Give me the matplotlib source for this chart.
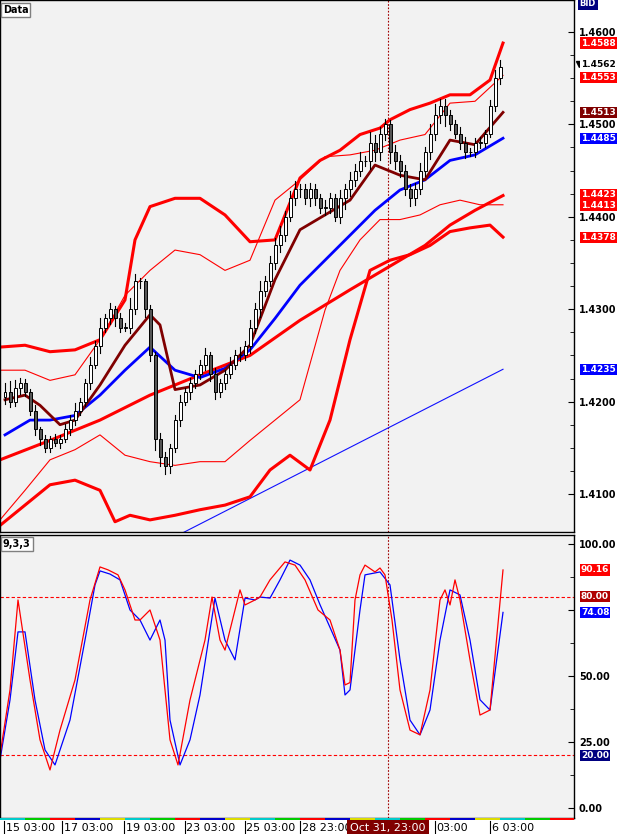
import matplotlib
matplotlib.use("Agg")
import matplotlib.pyplot as plt
from matplotlib.patches import Rectangle
import numpy as np

# ---------------- data ----------------
closes = [1.421,1.420,1.4215,1.422,1.421,1.419,1.417,1.416,
          1.415,1.416,1.4155,1.416,1.417,1.418,1.419,1.420,
          1.422,1.424,1.426,1.428,1.429,1.430,1.429,1.428,
          1.428,1.430,1.433,1.433,1.430,1.425,1.416,1.414,
          1.413,1.415,1.418,1.420,1.421,1.422,1.423,1.424,
          1.425,1.423,1.421,1.422,1.423,1.424,1.425,1.425,
          1.426,1.428,1.430,1.432,1.433,1.435,1.437,1.438,
          1.440,1.442,1.443,1.443,1.442,1.443,1.442,1.441,
          1.441,1.442,1.440,1.442,1.443,1.444,1.445,1.446,
          1.446,1.448,1.447,1.449,1.450,1.447,1.446,1.445,
          1.443,1.442,1.443,1.445,1.447,1.449,1.451,1.452,
          1.451,1.450,1.449,1.448,1.447,1.447,1.448,1.448,
          1.449,1.452,1.455,1.4562]
first_open = 1.4205
wick_up = [0.0010,0.0012,0.0008,0.0006,0.0005,0.0004,0.0006,0.0003,
           0.0004,0.0003,0.0005,0.0004,0.0006,0.0005,0.0009,0.0004,
           0.0005,0.0008,0.0006,0.0010,0.0005,0.0007,0.0004,0.0006,
           0.0005,0.0012,0.0008,0.0004,0.0003,0.0005,0.0004,0.0006,
           0.0005,0.0004,0.0006,0.0007,0.0005,0.0006,0.0004,0.0005,
           0.0008,0.0004,0.0006,0.0005,0.0004,0.0008,0.0006,0.0009,
           0.0006,0.0008,0.0007,0.0010,0.0006,0.0008,0.0007,0.0010,
           0.0006,0.0008,0.0009,0.0006,0.0005,0.0007,0.0006,0.0005,
           0.0008,0.0006,0.0005,0.0009,0.0006,0.0008,0.0007,0.0010,
           0.0006,0.0012,0.0008,0.0007,0.0006,0.0005,0.0008,0.0007,
           0.0006,0.0005,0.0007,0.0008,0.0006,0.0010,0.0012,0.0008,
           0.0007,0.0006,0.0005,0.0007,0.0006,0.0004,0.0005,0.0006,
           0.0004,0.0006,0.0009,0.0008]
wick_dn = [0.0008,0.0006,0.0005,0.0007,0.0004,0.0005,0.0006,0.0007,
           0.0005,0.0004,0.0003,0.0005,0.0004,0.0006,0.0005,0.0004,
           0.0005,0.0006,0.0004,0.0007,0.0005,0.0006,0.0008,0.0005,
           0.0004,0.0006,0.0005,0.0007,0.0008,0.0006,0.0012,0.0010,
           0.0008,0.0007,0.0005,0.0006,0.0004,0.0007,0.0005,0.0006,
           0.0006,0.0008,0.0007,0.0005,0.0006,0.0004,0.0005,0.0006,
           0.0005,0.0007,0.0006,0.0008,0.0006,0.0005,0.0007,0.0008,
           0.0006,0.0005,0.0007,0.0009,0.0006,0.0008,0.0007,0.0006,
           0.0008,0.0006,0.0005,0.0007,0.0012,0.0008,0.0007,0.0006,
           0.0005,0.0008,0.0010,0.0009,0.0007,0.0012,0.0008,0.0007,
           0.0006,0.0008,0.0007,0.0005,0.0006,0.0008,0.0007,0.0009,
           0.0012,0.0006,0.0005,0.0007,0.0006,0.0004,0.0005,0.0006,
           0.0005,0.0004,0.0005,0.0006]

blue_x = [1,6,10,15,20,25,30,35,40,45,50,55,60,65,70,75,80,85,90,95,100.6]
blue_y = [1.4164,1.4180,1.4180,1.4185,1.4207,1.4234,1.4259,1.4234,1.4226,1.4236,1.4256,1.4290,1.4326,1.4353,1.4380,1.4407,1.4429,1.4440,1.4461,1.4467,1.4485]
ema_x = [1,5,8,12,15,20,25,30,32,35,40,45,50,55,60,65,70,75,80,85,90,95,100.6]
ema_y = [1.4202,1.4207,1.4196,1.4175,1.4180,1.4218,1.4261,1.4294,1.4283,1.4213,1.4218,1.4234,1.4261,1.4332,1.4386,1.4402,1.4418,1.4456,1.4445,1.4440,1.4483,1.4478,1.4513]
mid_x = [0,10,20,30,40,50,60,70,75,80,85,90,95,100.6]
mid_y = [1.4137,1.4158,1.4180,1.4207,1.4229,1.4250,1.4288,1.4321,1.4337,1.4353,1.4369,1.4391,1.4407,1.4423]
ub_x = [0,5,10,15,20,25,27,30,35,40,45,50,55,60,64,68,72,76,78,82,86,90,94,98,100.6]
ub_y = [1.4259,1.4261,1.4254,1.4256,1.4267,1.4310,1.4375,1.4411,1.4420,1.4420,1.4402,1.4373,1.4375,1.4442,1.4461,1.4472,1.4489,1.4496,1.4505,1.4516,1.4523,1.4532,1.4532,1.4548,1.4588]
lb_x = [0,5,10,15,20,23,26,30,35,40,45,50,54,58,62,66,70,74,78,82,86,90,94,98,100.6]
lb_y = [1.4066,1.4088,1.4110,1.4115,1.4104,1.4070,1.4077,1.4072,1.4077,1.4083,1.4088,1.4097,1.4126,1.4142,1.4126,1.4180,1.4267,1.4342,1.4353,1.4359,1.4369,1.4384,1.4388,1.4391,1.4378]
tu_x = [0,5,10,15,20,25,30,35,40,45,50,55,60,65,70,75,80,85,90,95,100.6]
tu_y = [1.4234,1.4234,1.4223,1.4229,1.4267,1.4315,1.4342,1.4364,1.4359,1.4342,1.4353,1.4418,1.4440,1.4465,1.4467,1.4472,1.4483,1.4489,1.4523,1.4525,1.4553]
tl_x = [0,5,10,15,20,25,30,35,40,45,50,55,60,65,68,72,76,80,84,88,92,96,100.6]
tl_y = [1.4072,1.4104,1.4137,1.4148,1.4164,1.4142,1.4135,1.4131,1.4135,1.4135,1.4158,1.4180,1.4202,1.4299,1.4342,1.4375,1.4397,1.4397,1.4402,1.4413,1.4418,1.4413,1.4413]
lt_x = [0, 100.6]
lt_y = [1.3957, 1.4235]

k_x = [0,2,3.6,6,8,10,12,15,18,20,21.6,23.6,25,27,28,30,31,32,34,35.6,38,41,42.4,44,45,48,49,51,52,54,57,59,61,63.6,66,68,69,70,71,72,73,75,76,77,78.4,80,82,84,86,88,89,90,91,92,94,96,98,100.6]
k_y = [20,44.7,78.8,48.5,25.8,14.4,29.5,48.5,78.8,91.3,90.2,88.3,82.6,71.2,71.2,75,69.3,63.6,25.8,16.3,40.9,63.6,79.9,63.6,59.8,82.6,76.9,78.8,79.9,86.4,93.2,92,86.4,75,71.2,59.8,46.6,47.5,78.8,88.3,92,89.4,90.9,88.3,71.2,44.7,29.5,27.7,44.7,78.8,82.6,76.9,86.4,78.8,56.1,35.2,37.1,90.16]
d_x = [0,2,3.6,5,7,9,11,14,17,19,20,22,24,26,28,30,32,33,34,36,38,40,43,45,47,49,51,52,54,56,58,60,62,64,68,69,70,72,73,76,78,80,82,84,86,88,90,92,94,96,98,100.6]
d_y = [18.2,40.9,66.7,66.7,40.9,22,16.3,33.3,63.6,84.5,89.8,88.6,86.4,75,71.2,63.6,71.2,63.6,33.3,16.3,25.8,42.8,79.5,63.6,56.1,79.5,78.8,79.9,79.5,86.4,93.9,92,86.4,77,59.8,42.8,44.7,75,88.3,89.4,84.5,56.1,33.3,27.7,37.1,63.6,82.6,80.7,63.6,41,37.1,74.08]

date_pos = [0.8,12.4,24.8,37,49,60,87,98]
date_lab = ["15 03:00","17 03:00","19 03:00","23 03:00","25 03:00","28 23:00","03:00","6 03:00"]
cross_pos = 77.6
cross_lab = "Oct 31, 23:00"

BG = "#f2f2f2"
W, H = 626, 834
fig = plt.figure(figsize=(W/100, H/100), dpi=100)
fig.patch.set_facecolor("white")
R = 574/W

ax = fig.add_axes([0, 1-532/H, R, 532/H], facecolor=BG)
ax2 = fig.add_axes([0, 1-818/H, R, 283/H], facecolor=BG)
for a in (ax, ax2):
    a.set_xlim(0, 114.8)
    a.tick_params(axis="y", which="both", left=False, right=True, labelleft=False,
                  labelright=True, direction="in", length=4, labelsize=7)
    a.set_xticks([])
    for s in a.spines.values():
        s.set_color("black"); s.set_linewidth(1)
    a.axvline(cross_pos, color="#a00000", ls=(0, (1.5, 1.5)), lw=0.8, zorder=1)

ax.set_ylim(1.40589, 1.46346)
ax2.set_ylim(-3.8, 103.4)

ax.plot(lt_x, lt_y, color="#1010ff", lw=0.8, zorder=2)
ax.plot(tu_x, tu_y, color="red", lw=0.8, zorder=2)
ax.plot(tl_x, tl_y, color="red", lw=0.8, zorder=2)
ax.plot(ub_x, ub_y, color="red", lw=2.2, zorder=2)
ax.plot(lb_x, lb_y, color="red", lw=2.2, zorder=2)
ax.plot(mid_x, mid_y, color="red", lw=2.2, zorder=2)
ax.plot(blue_x, blue_y, color="#0000ff", lw=2, zorder=3)
ax.plot(ema_x, ema_y, color="#800000", lw=2, zorder=3)

opens = [first_open] + closes[:-1]
for i, (o, c) in enumerate(zip(opens, closes)):
    x = i + 1
    hi = max(o, c) + wick_up[i]
    lo = min(o, c) - wick_dn[i]
    ax.plot([x, x], [lo, hi], color="black", lw=0.8, zorder=4)
    fc = "white" if c >= o else "#555555"
    h = abs(c - o) if abs(c - o) > 0.00005 else 0.00005
    ax.add_patch(Rectangle((x - 0.3, min(o, c)), 0.6, h, facecolor=fc,
                           edgecolor="black", lw=0.7, zorder=5))

pt = [1.41, 1.42, 1.43, 1.44, 1.45, 1.46]
ax.set_yticks(pt, [f"{v:.4f}" for v in pt], fontweight="bold")
ax.set_yticks(np.arange(1.41, 1.461, 0.0025), minor=True)
ax.tick_params(axis="y", which="minor", right=True, direction="in", length=3)

def tag(a, y, s, fc, tc="white"):
    a.text(1.012, y, s, transform=a.get_yaxis_transform(), ha="left", va="center",
           fontsize=6.5, fontweight="bold", color=tc, clip_on=False,
           bbox=dict(boxstyle="square,pad=0.12", fc=fc, ec="none"))

tag(ax, 1.4588, "1.4588", "red")
tag(ax, 1.4565, "1.4562", "white", "black")
tag(ax, 1.4551, "1.4553", "red")
tag(ax, 1.4513, "1.4513", "#800000")
tag(ax, 1.4485, "1.4485", "#0000ff")
tag(ax, 1.4424, "1.4423", "red")
tag(ax, 1.4412, "1.4413", "red")
tag(ax, 1.4378, "1.4378", "red")
tag(ax, 1.4235, "1.4235", "#0000ff")
ax.plot([1.008], [1.4565], marker="v", color="black", ms=4, transform=ax.get_yaxis_transform(), clip_on=False)
ax.text(1.01, 0.993, "BID", transform=ax.transAxes, fontsize=6, color="white",
        fontweight="bold", va="center", clip_on=False,
        bbox=dict(boxstyle="square,pad=0.2", fc="#000080", ec="none"))
ax.text(0.005, 0.99, "Data", transform=ax.transAxes, fontsize=7, fontweight="bold",
        va="top", bbox=dict(boxstyle="square,pad=0.2", fc="white", ec="gray"))

ax2.axhline(80, color="red", ls=(0, (3, 2)), lw=0.8)
ax2.axhline(20, color="red", ls=(0, (3, 2)), lw=0.8)
ax2.plot(d_x, d_y, color="#0000ff", lw=0.9)
ax2.plot(k_x, k_y, color="red", lw=0.9)
st = [0, 25, 50, 75, 100]
ax2.set_yticks(st, ["0.00", "25.00", "50.00", "", "100.00"], fontweight="bold")
ax2.set_yticks([12.5, 37.5, 62.5, 87.5], minor=True)
ax2.tick_params(axis="y", which="minor", right=True, direction="in", length=3)
tag(ax2, 90.16, "90.16", "red")
tag(ax2, 80, "80.00", "#b00000")
tag(ax2, 74.08, "74.08", "#0000ff")
tag(ax2, 20, "20.00", "#000080")
ax2.text(0.005, 0.985, "9,3,3", transform=ax2.transAxes, fontsize=7, fontweight="bold",
         va="top", bbox=dict(boxstyle="square,pad=0.2", fc="white", ec="gray"))

axd = fig.add_axes([0, 0, R, 16/H], facecolor="white")
axd.set_xlim(0, 114.8); axd.set_ylim(0, 1)
axd.axis("off")
strip = ["#00cccc", "#00cc00", "#ff0000", "#0000cc", "#dddd00"]
for k in range(23):
    axd.add_patch(Rectangle((k * 5, 0.85), 5, 0.15, color=strip[k % 5], lw=0))
for p, s in zip(date_pos, date_lab):
    axd.plot([p, p], [0, 0.8], color="black", lw=0.8)
    axd.text(p + 0.3, 0.38, s, fontsize=8, va="center", ha="left")
axd.text(cross_pos, 0.38, cross_lab, fontsize=8, va="center", ha="center", color="white",
         bbox=dict(boxstyle="square,pad=0.25", fc="#800000", ec="none"))

fig.savefig("out.png", dpi=100, facecolor="white")
